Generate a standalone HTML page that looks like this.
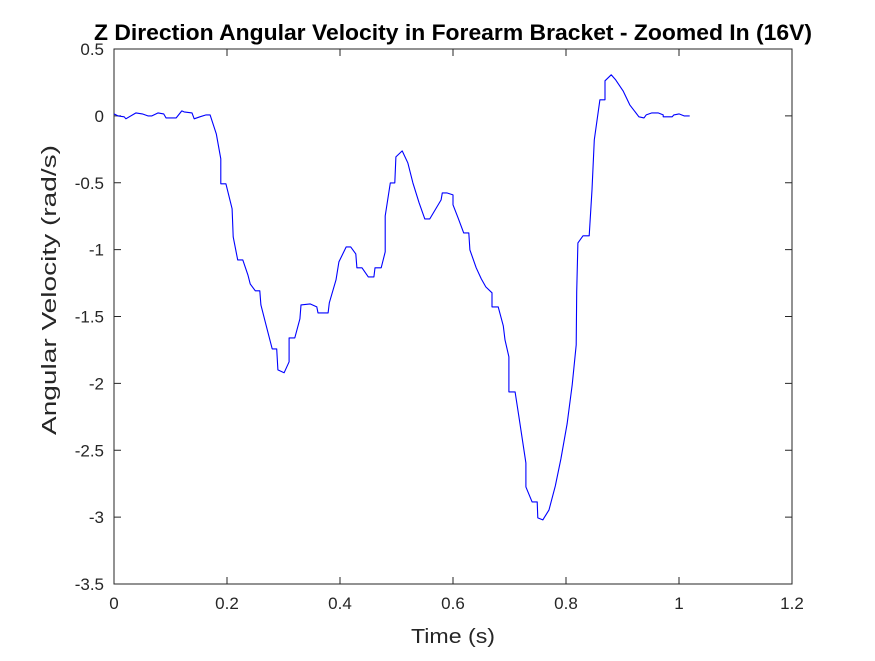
<!DOCTYPE html>
<html><head><meta charset="utf-8"><style>
body{margin:0;background:#fff;font-family:"Liberation Sans",Arial,sans-serif}
svg text{font-family:"Liberation Sans",Arial,sans-serif;fill:#262626}
</style></head><body>
<svg id="chart" width="875" height="656" viewBox="0 0 875 656" xmlns="http://www.w3.org/2000/svg">
<rect width="875" height="656" fill="#fff"/>
<text x="453" y="40" text-anchor="middle" font-size="22" font-weight="bold" textLength="718" lengthAdjust="spacingAndGlyphs" style="fill:#000">Z Direction Angular Velocity in Forearm Bracket - Zoomed In (16V)</text>
<g id="axes"></g>
<text x="453" y="643" text-anchor="middle" font-size="20" textLength="84" lengthAdjust="spacingAndGlyphs">Time (s)</text>
<text transform="translate(56,290) rotate(-90)" text-anchor="middle" font-size="20" textLength="290" lengthAdjust="spacingAndGlyphs">Angular Velocity (rad/s)</text>
</svg>
<script>
const xTicks=[0,0.2,0.4,0.6,0.8,1,1.2];
const xTickLabels=["0","0.2","0.4","0.6","0.8","1","1.2"];
const yTicks=[0.5,0,-0.5,-1,-1.5,-2,-2.5,-3,-3.5];
const yTickLabels=["0.5","0","-0.5","-1","-1.5","-2","-2.5","-3","-3.5"];
const timeValues=[0,0.007,0.018,0.021,0.039,0.050,0.060,0.067,0.078,0.088,0.092,0.110,0.120,0.124,0.138,0.142,0.152,0.163,0.170,0.181,0.189,0.189,0.198,0.209,0.211,0.219,0.228,0.237,0.241,0.250,0.258,0.260,0.269,0.280,0.288,0.290,0.301,0.310,0.310,0.320,0.329,0.331,0.347,0.359,0.361,0.379,0.381,0.393,0.398,0.411,0.419,0.428,0.430,0.439,0.450,0.460,0.462,0.473,0.480,0.480,0.489,0.497,0.499,0.510,0.520,0.529,0.540,0.550,0.559,0.579,0.581,0.589,0.600,0.600,0.609,0.619,0.628,0.630,0.641,0.650,0.658,0.669,0.669,0.680,0.689,0.692,0.699,0.699,0.710,0.717,0.729,0.729,0.740,0.749,0.750,0.759,0.770,0.781,0.791,0.802,0.811,0.818,0.819,0.821,0.830,0.841,0.846,0.850,0.860,0.869,0.869,0.880,0.888,0.901,0.913,0.929,0.938,0.942,0.952,0.963,0.972,0.972,0.988,0.991,1.000,1.009,1.019];
const velocityValues=[0.015,0,-0.007,-0.022,0.022,0.015,0,0,0.022,0.015,-0.015,-0.015,0.037,0.030,0.022,-0.022,-0.007,0.007,0.007,-0.135,-0.322,-0.508,-0.508,-0.695,-0.905,-1.077,-1.077,-1.189,-1.256,-1.308,-1.308,-1.413,-1.563,-1.742,-1.742,-1.899,-1.921,-1.839,-1.660,-1.660,-1.518,-1.413,-1.406,-1.428,-1.473,-1.473,-1.398,-1.226,-1.092,-0.980,-0.980,-1.032,-1.136,-1.136,-1.204,-1.204,-1.136,-1.136,-1.017,-0.748,-0.501,-0.501,-0.307,-0.262,-0.351,-0.501,-0.650,-0.770,-0.770,-0.628,-0.576,-0.576,-0.591,-0.665,-0.763,-0.875,-0.875,-1.002,-1.136,-1.219,-1.279,-1.323,-1.428,-1.428,-1.570,-1.675,-1.802,-2.064,-2.064,-2.258,-2.595,-2.774,-2.886,-2.886,-3.006,-3.021,-2.946,-2.767,-2.565,-2.303,-2.011,-1.712,-1.316,-0.950,-0.897,-0.897,-0.553,-0.179,0.120,0.120,0.262,0.307,0.269,0.187,0.082,-0.007,-0.015,0.007,0.022,0.022,0.007,-0.007,-0.007,0.007,0.015,0,0];
const L=114,R=792,T=49,B=584,xMin=0,xMax=1.2,yMin=-3.5,yMax=0.5;
const sx=v=>L+(v-xMin)/(xMax-xMin)*(R-L);
const sy=v=>B-(v-yMin)/(yMax-yMin)*(B-T);
const NS="http://www.w3.org/2000/svg";
const g=document.getElementById('axes');
function mk(tag,attrs){const e=document.createElementNS(NS,tag);for(const k in attrs)e.setAttribute(k,attrs[k]);g.appendChild(e);return e;}
const box=mk('rect',{x:L,y:T,width:R-L,height:B-T,fill:'none',stroke:'#262626','stroke-width':1});


xTicks.forEach((v,i)=>{
  const x=sx(v);
  const t1=mk('line',{x1:x,x2:x,y1:B,y2:B-7,stroke:'#262626'});
  
  
  const t2=mk('line',{x1:x,x2:x,y1:T,y2:T+7,stroke:'#262626'});
  
  
  const lb=mk('text',{x:x,y:B+25,'text-anchor':'middle','font-size':17});
  lb.textContent=xTickLabels[i];
  
  
});
yTicks.forEach((v,i)=>{
  const y=sy(v);
  const t1=mk('line',{x1:L,x2:L+7,y1:y,y2:y,stroke:'#262626'});
  
  
  const t2=mk('line',{x1:R,x2:R-7,y1:y,y2:y,stroke:'#262626'});
  
  
  const lb=mk('text',{x:L-10,y:y+6,'text-anchor':'end','font-size':17});
  lb.textContent=yTickLabels[i];
  
  
});
const pts=timeValues.map((t,i)=>sx(t).toFixed(1)+','+sy(velocityValues[i]).toFixed(1)).join(' ');
const line=mk('polyline',{points:pts,fill:'none',stroke:'#0000ff','stroke-width':1.1,'stroke-linejoin':'round'});


</script>
</body></html>
